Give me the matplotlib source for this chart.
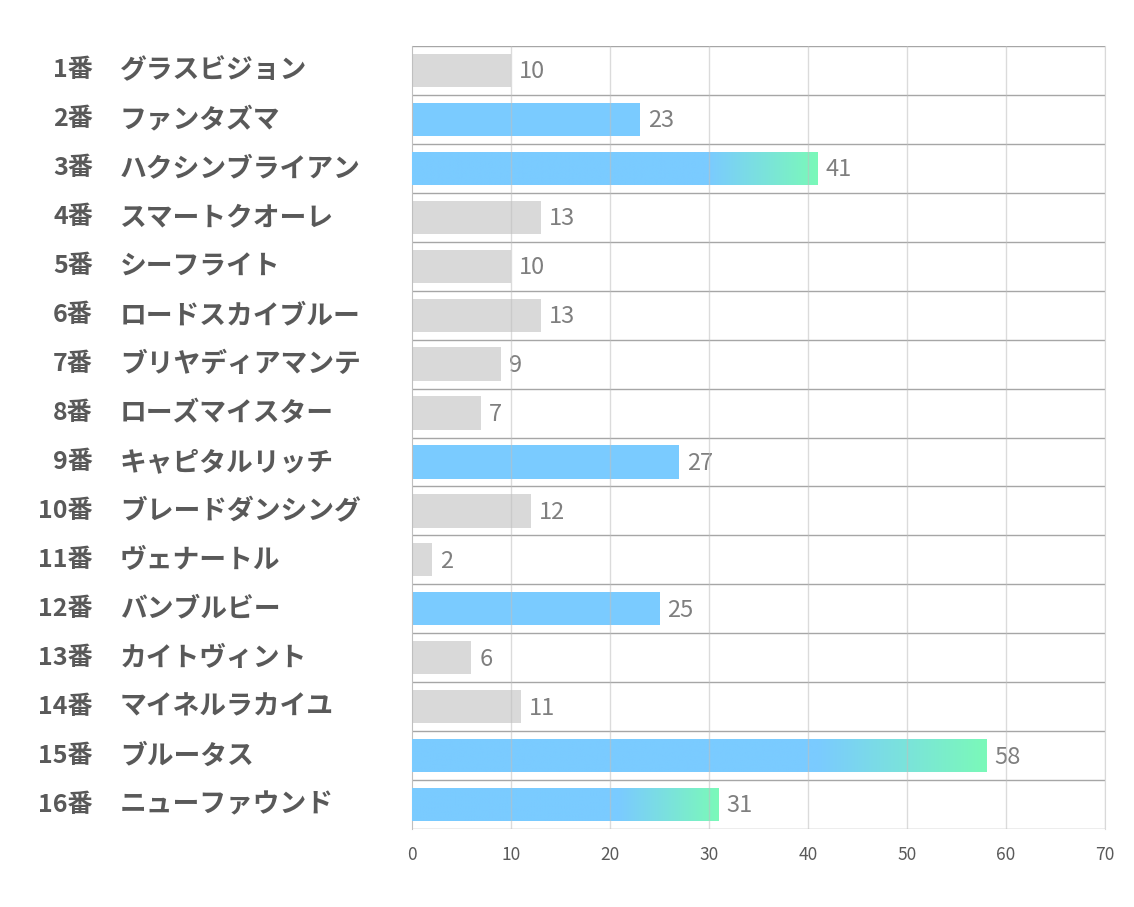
import numpy as np
import matplotlib
matplotlib.use("Agg")
import matplotlib.pyplot as plt
from matplotlib.colors import LinearSegmentedColormap

plt.rcParams['font.family'] = ['Noto Sans CJK JP', 'DejaVu Sans']

numbers = [f"{i}番" for i in range(1, 17)]
names = ["グラスビジョン", "ファンタズマ", "ハクシンブライアン", "スマートクオーレ",
         "シーフライト", "ロードスカイブルー", "ブリヤディアマンテ", "ローズマイスター",
         "キャピタルリッチ", "ブレードダンシング", "ヴェナートル", "バンブルビー",
         "カイトヴィント", "マイネルラカイユ", "ブルータス", "ニューファウンド"]
values = [10, 23, 41, 13, 10, 13, 9, 7, 27, 12, 2, 25, 6, 11, 58, 31]
highlight = [False, True, True, False, False, False, False, False,
             True, False, False, True, False, False, True, True]
# where the blue->green fade begins, for bars that have one
fade_from = {2: 30, 14: 41, 15: 21}

gray = "#D9D9D9"
blue = "#7ACBFF"
green = "#7BF9B9"
text_col = "#595959"

fig = plt.figure(figsize=(11.34, 9.07), dpi=100)
ax = fig.add_axes([412 / 1134, 1 - 829 / 907, (1105 - 412) / 1134, (829 - 46) / 907])

n = len(values)
h = 0.68
cmap = LinearSegmentedColormap.from_list("bg", [blue, green])

for i, v in enumerate(values):
    col = blue if highlight[i] else gray
    bar = ax.barh(i, v, height=h, color=col, zorder=2)[0]
    if i in fade_from:
        xs = np.linspace(0, v, 512)
        t = np.clip((xs - fade_from[i]) / (v - fade_from[i]), 0, 1).reshape(1, -1)
        im = ax.imshow(t, cmap=cmap, vmin=0, vmax=1, aspect='auto',
                       interpolation='bilinear',
                       extent=[0, v, i + h / 2 + 0.05, i - h / 2 - 0.05], zorder=3)
        im.set_clip_path(bar)
    ax.text(v + 0.8, i + 0.03, str(v), va='center', ha='left', fontsize=17,
            color="#7F7F7F")

ax.set_xlim(0, 70)
ax.set_ylim(n - 0.5, -0.5)
ax.set_xticks(range(0, 71, 10))
ax.set_yticks([])
ax.tick_params(axis='x', length=0, labelsize=12.5, labelcolor=text_col, pad=12)
for x in range(10, 71, 10):
    ax.axvline(x, color="#BFBFBF", linewidth=1, alpha=0.55, zorder=4)
for b in np.arange(-0.5, n, 1.0):
    ax.axhline(b, color="#A6A6A6", linewidth=1, zorder=1)
for s in ['top', 'bottom']:
    ax.spines[s].set_visible(False)
ax.spines['left'].set_color("#BFBFBF")
ax.spines['right'].set_color("#D9D9D9")

# row labels: number right aligned, horse name left aligned
for i in range(n):
    yfig = ax.transData.transform((0, i))
    yf = fig.transFigure.inverted().transform(yfig)[1]
    fig.text(93 / 1134, yf, numbers[i], ha='right', va='center', fontsize=18,
             fontweight='bold', color=text_col)
    fig.text(120 / 1134, yf, names[i], ha='left', va='center', fontsize=19.3,
             fontweight='bold', color=text_col)

fig.savefig("out.png", dpi=100)
